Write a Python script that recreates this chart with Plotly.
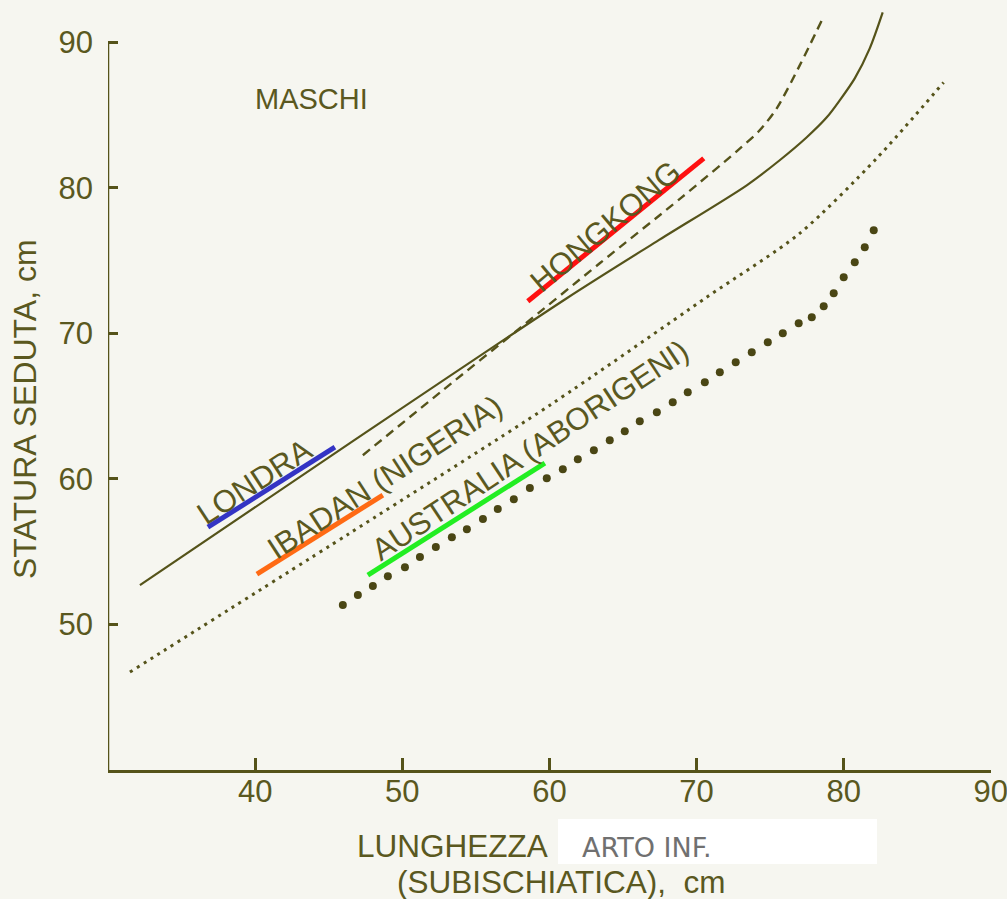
import plotly.graph_objects as go

# ---- data ----
londra_x = [32.17, 46.44, 61.18, 67.30, 73.41, 75.65, 77.49, 78.85, 79.73, 80.75, 81.77, 82.65]
londra_y = [52.71, 62.46, 72.42, 76.33, 80.18, 81.90, 83.48, 84.85, 86.02, 87.53, 89.59, 92.06]

hongkong_x = [47.32, 52.76, 57.99, 63.42, 68.99, 72.80, 74.29, 75.45, 77.01, 78.51]
hongkong_y = [61.63, 66.10, 70.36, 74.82, 79.35, 82.58, 83.96, 85.47, 88.42, 91.51]

ibadan_x = [31.49, 46.44, 60.03, 70.69, 77.01, 82.24, 86.79]
ibadan_y = [46.73, 56.28, 65.07, 72.49, 76.88, 82.03, 87.25]

australia_x = [45.96, 46.98, 48.00, 49.02, 50.18, 51.20, 52.28, 53.37, 54.39, 55.48, 56.49, 57.58,
               58.67, 59.82, 60.91, 61.93, 63.02, 64.10, 65.12, 66.14, 67.30, 68.38, 69.40, 70.56,
               71.58, 72.66, 73.75, 74.84, 75.86, 76.94, 77.83, 78.64, 79.32, 80.00, 80.75, 81.43, 82.04]
australia_y = [51.33, 52.02, 52.64, 53.32, 53.94, 54.63, 55.32, 56.00, 56.55, 57.24, 57.93, 58.61,
               59.37, 60.05, 60.67, 61.36, 61.98, 62.66, 63.28, 63.97, 64.59, 65.27, 65.96, 66.65,
               67.34, 68.02, 68.71, 69.40, 70.01, 70.70, 71.11, 71.87, 72.76, 73.86, 74.89, 75.92, 77.09]

# coloured highlight bars under the labels
hl_names = ["LONDRA", "IBADAN", "AUSTRALIA", "HONGKONG"]
hl_x0 = [36.79, 40.12, 47.66, 58.53]
hl_y0 = [56.69, 53.46, 53.39, 72.21]
hl_x1 = [45.42, 48.68, 59.69, 70.49]
hl_y1 = [62.18, 58.89, 61.09, 82.03]
hl_colors = ["#3434c4", "#ff6a14", "#22ee22", "#ff1010"]

# curve labels
lab_text = ["LONDRA", "IBADAN (NIGERIA)", "AUSTRALIA (ABORIGENI)", "HONGKONG"]
lab_x = [40.0, 48.8, 58.67, 63.8]
lab_y = [59.8, 60.1, 61.98, 77.37]
lab_angle = [-33, -33, -33.5, -40]

x_ticks = [40, 50, 60, 70, 80, 90]
y_ticks = [50, 60, 70, 80, 90]

INK = "#55531a"
TXT = "#5a5820"
BG = "#f6f6f0"
FONT = "Liberation Sans, Arial, sans-serif"

fig = go.Figure()

fig.add_trace(go.Scatter(x=londra_x, y=londra_y, mode="lines",
                         line=dict(color=INK, width=2.2, shape="spline", smoothing=0.8),
                         hoverinfo="skip", showlegend=False))
fig.add_trace(go.Scatter(x=hongkong_x, y=hongkong_y, mode="lines",
                         line=dict(color=INK, width=2.4, dash="9px,6px", shape="spline", smoothing=0.8),
                         hoverinfo="skip", showlegend=False))
fig.add_trace(go.Scatter(x=ibadan_x, y=ibadan_y, mode="lines",
                         line=dict(color=INK, width=3, dash="3px,5px", shape="spline", smoothing=0.8),
                         hoverinfo="skip", showlegend=False))
fig.add_trace(go.Scatter(x=australia_x, y=australia_y, mode="markers",
                         marker=dict(color="#4a4614", size=8, line=dict(width=0)),
                         hoverinfo="skip", showlegend=False))

shapes = []
# y axis line (only up to 90)
shapes.append(dict(type="line", xref="x", yref="y", x0=30, x1=30, y0=40, y1=90,
                   line=dict(color=INK, width=2.5)))
for i in range(len(hl_names)):
    shapes.append(dict(type="line", xref="x", yref="y",
                       x0=hl_x0[i], y0=hl_y0[i], x1=hl_x1[i], y1=hl_y1[i],
                       line=dict(color=hl_colors[i], width=5)))
# white patch over the x-axis title
shapes.append(dict(type="rect", xref="paper", yref="paper",
                   x0=0.5096, x1=0.8709, y0=-0.1230, y1=-0.0641,
                   fillcolor="white", line=dict(width=0), layer="above"))

annotations = []
for t, x, y, a in zip(lab_text, lab_x, lab_y, lab_angle):
    annotations.append(dict(text=t, x=x, y=y, xref="x", yref="y", showarrow=False,
                            textangle=a, xanchor="center", yanchor="middle",
                            font=dict(family=FONT, size=31, color=TXT)))
annotations.append(dict(text="MASCHI", x=43.8, y=86.1, xref="x", yref="y", showarrow=False,
                        xanchor="center", yanchor="middle",
                        font=dict(family=FONT, size=29, color=TXT)))
annotations.append(dict(text="STATURA SEDUTA, cm", x=-0.094, y=0.4725, xref="paper", yref="paper",
                        showarrow=False, textangle=-90, xanchor="center", yanchor="middle",
                        font=dict(family=FONT, size=32, color=TXT)))
annotations.append(dict(text="LUNGHEZZA", x=0.2797, y=-0.0995, xref="paper", yref="paper",
                        xanchor="left", yanchor="middle", showarrow=False,
                        font=dict(family=FONT, size=31.5, color=TXT)))
annotations.append(dict(text="(SUBISCHIATICA),\u00a0 cm", x=0.325, y=-0.1466, xref="paper", yref="paper",
                        xanchor="left", yanchor="middle", showarrow=False,
                        font=dict(family=FONT, size=31.5, color=TXT)))
annotations.append(dict(text="ARTO INF.", x=0.5345, y=-0.1008, xref="paper", yref="paper",
                        xanchor="left", yanchor="middle", showarrow=False,
                        font=dict(family="DejaVu Sans, sans-serif", size=27, color="#707070")))

fig.update_layout(
    width=1007, height=899,
    margin=dict(l=108, r=16, t=6, b=129, pad=0, autoexpand=False),
    paper_bgcolor=BG, plot_bgcolor=BG,
    shapes=shapes, annotations=annotations,
    xaxis=dict(range=[30, 90.01], tickvals=x_ticks, ticks="inside", ticklen=12, tickwidth=2.5,
               tickcolor=INK, showline=True, linecolor=INK, linewidth=2.5, showgrid=False,
               zeroline=False, ticklabelstandoff=-8, ticklabeloverflow="allow", automargin=False,
               tickfont=dict(family=FONT, size=31, color=TXT)),
    yaxis=dict(range=[40, 92.5], tickvals=y_ticks, ticks="inside", ticklen=10, tickwidth=2.5,
               tickcolor=INK, showline=False, showgrid=False, zeroline=False,
               ticklabelstandoff=14, automargin=False,
               tickfont=dict(family=FONT, size=31, color=TXT)),
)

fig.write_html("out.html", config={"displayModeBar": False},
               post_script="document.body.style.margin='0';document.body.style.overflow='hidden';")
